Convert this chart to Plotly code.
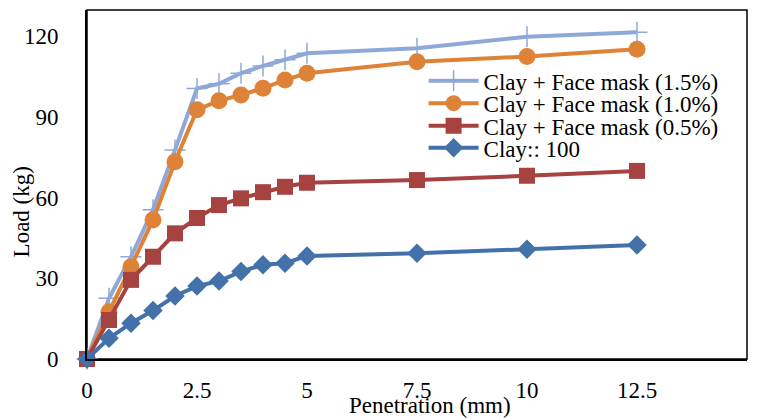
import plotly.graph_objects as go

penetration = [0, 0.5, 1, 1.5, 2, 2.5, 3, 3.5, 4, 4.5, 5, 7.5, 10, 12.5]
load_fm15 = [0, 22.6, 38, 55.5, 77.7, 100.5, 102.3, 106.2, 108.9, 111.2, 113.6, 115.5, 119.8, 121.4]
load_fm10 = [0, 17.6, 34.3, 51.7, 73.3, 92.6, 96, 98.1, 100.6, 103.7, 106.2, 110.5, 112.4, 115.1]
load_fm05 = [0, 14.5, 29.4, 38, 46.7, 52.4, 57.2, 59.7, 62, 64, 65.5, 66.5, 68.1, 69.9]
load_clay = [0, 7.7, 13.3, 18, 23.4, 27.1, 29, 32.5, 35, 35.6, 38.3, 39.3, 40.8, 42.4]

names = ["Clay + Face mask (1.5%)", "Clay + Face mask (1.0%)", "Clay + Face mask (0.5%)", "Clay:: 100"]
colors = ["#8EA9D8", "#DE8238", "#A64341", "#4371A9"]
symbols = ["cross-thin", "circle", "square", "diamond"]
sizes = [15, 17, 16, 15]
legend_ids = ["legend", "legend2", "legend3", "legend4"]
legend_rows = [0.797, 0.733, 0.668, 0.605]
x_ticks = [0, 2.5, 5, 7.5, 10, 12.5, 15]
y_ticks = [0, 30, 60, 90, 120]

font = dict(family="Liberation Serif", size=23, color="black")

fig = go.Figure()
for vals, nm, c, s, sz, lg in zip([load_fm15, load_fm10, load_fm05, load_clay], names, colors, symbols, sizes, legend_ids):
    marker = dict(symbol=s, size=sz, color=c)
    if s == "cross-thin":
        marker["line"] = dict(color=c, width=1.5)
    fig.add_trace(go.Scatter(x=penetration, y=vals, name=nm, mode="lines+markers",
                             line=dict(color=c, width=4), marker=marker, legend=lg,
                             cliponaxis=False))

legends = {}
for lg, yr in zip(legend_ids, legend_rows):
    legends[lg] = dict(x=0.51, y=yr, xanchor="left", yanchor="middle", bgcolor="rgba(0,0,0,0)",
                       font=font, itemwidth=50, tracegroupgap=0)

fig.update_layout(
    width=758, height=418,
    margin=dict(l=87, r=11, t=10, b=59),
    paper_bgcolor="white", plot_bgcolor="white",
    font=font,
    showlegend=True,
    xaxis=dict(range=[0, 15], tickvals=x_ticks, ticktext=[str(v) for v in x_ticks],
               showgrid=False, zeroline=False, showline=True, linecolor="black", linewidth=2,
               mirror=False, ticks="", ticklabelstandoff=9),
    yaxis=dict(range=[0, 129.7], tickvals=y_ticks, showgrid=False, zeroline=False,
               showline=True, linecolor="black", linewidth=2, ticks="", ticklabelstandoff=22),
    shapes=[dict(type="rect", xref="paper", yref="paper", x0=0, y0=0, x1=1, y1=1,
                 line=dict(color="black", width=1.5), layer="below")],
    annotations=[
        dict(text="Penetration (mm)", xref="paper", yref="paper", x=0.52, y=-0.133,
             xanchor="center", yanchor="middle", showarrow=False, font=font),
        dict(text="Load (kg)", xref="paper", yref="paper", x=-0.1, y=0.42, textangle=-90,
             xanchor="center", yanchor="middle", showarrow=False, font=font),
    ],
    **legends,
)
fig.write_html("out.html")
